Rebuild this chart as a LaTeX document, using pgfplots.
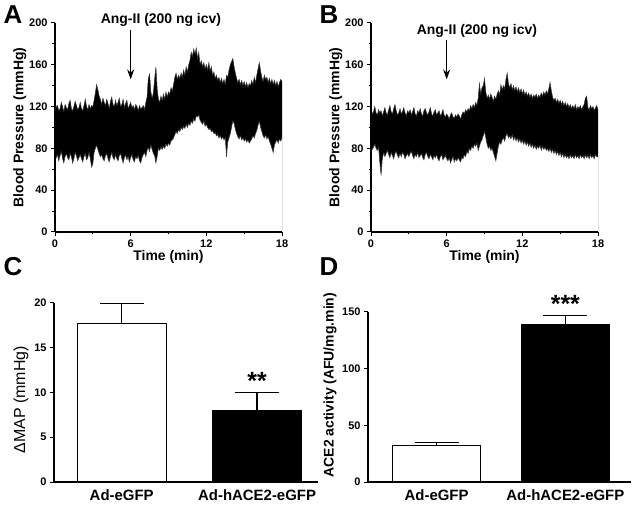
\documentclass[border=0pt]{standalone}
\usepackage{fontspec}
\setmainfont{Liberation Sans}
\usepackage{pgfplots}
\pgfplotsset{compat=1.18}
\usepackage{pgfplotstable}
\usetikzlibrary{arrows.meta}

\pgfplotstableread[row sep=\\]{
t hi lo\\
0.0 126 78\\ 0.1 119 71\\ 0.2 121 74\\ 0.3 116 68\\ 0.4 118 73\\ 0.5 124 77\\ 0.6 120 70\\ 0.7 115 66\\ 0.8 122 72\\ 0.9 119 75\\
1.0 117 71\\ 1.1 123 69\\ 1.2 126 75\\ 1.3 118 72\\ 1.4 116 66\\ 1.5 120 70\\ 1.6 125 76\\ 1.7 121 73\\ 1.8 117 68\\ 1.9 119 71\\
2.0 124 74\\ 2.1 118 70\\ 2.2 116 67\\ 2.3 121 72\\ 2.4 127 75\\ 2.5 120 69\\ 2.6 117 71\\ 2.7 122 76\\ 2.8 118 70\\ 2.9 121 62\\
3.0 120 65\\ 3.1 126 76\\ 3.2 133 80\\ 3.3 141 83\\ 3.4 136 79\\ 3.5 130 75\\ 3.6 127 72\\ 3.7 122 74\\ 3.8 128 70\\ 3.9 124 68\\
4.0 121 73\\ 4.1 127 75\\ 4.2 123 70\\ 4.3 118 67\\ 4.4 125 72\\ 4.5 129 76\\ 4.6 122 71\\ 4.7 120 69\\ 4.8 126 74\\ 4.9 121 70\\
5.0 124 68\\ 5.1 128 73\\ 5.2 120 75\\ 5.3 122 70\\ 5.4 127 66\\ 5.5 119 71\\ 5.6 123 74\\ 5.7 126 69\\ 5.8 118 72\\ 5.9 121 67\\
6.0 124 71\\ 6.1 119 74\\ 6.2 121 69\\ 6.3 117 67\\ 6.4 122 72\\ 6.5 120 70\\ 6.6 116 73\\ 6.7 121 68\\ 6.8 118 66\\ 6.9 119 71\\
7.0 121 74\\ 7.1 117 76\\ 7.2 124 72\\ 7.3 129 78\\ 7.4 147 81\\ 7.5 151 77\\ 7.6 134 83\\ 7.7 128 79\\ 7.8 133 75\\ 7.9 146 73\\
8.0 158 66\\ 8.1 137 72\\ 8.2 127 80\\ 8.3 124 78\\ 8.4 130 81\\ 8.5 126 79\\ 8.6 132 82\\ 8.7 127 80\\ 8.8 134 84\\ 8.9 129 82\\
9.0 134 85\\ 9.1 132 83\\ 9.2 138 87\\ 9.3 135 88\\ 9.4 141 90\\ 9.5 148 93\\ 9.6 152 96\\ 9.7 146 94\\ 9.8 150 98\\ 9.9 147 96\\
10.0 152 100\\ 10.1 148 98\\ 10.2 155 101\\ 10.3 150 99\\ 10.4 158 103\\ 10.5 153 100\\ 10.6 160 104\\ 10.7 164 102\\ 10.8 172 106\\ 10.9 168 104\\
11.0 175 108\\ 11.1 170 106\\ 11.2 176 111\\ 11.3 166 110\\ 11.4 172 112\\ 11.5 160 107\\ 11.6 164 105\\ 11.7 158 103\\ 11.8 162 106\\ 11.9 156 101\\
12.0 160 103\\ 12.1 155 100\\ 12.2 162 98\\ 12.3 154 99\\ 12.4 158 96\\ 12.5 150 97\\ 12.6 153 94\\ 12.7 147 95\\ 12.8 150 92\\ 12.9 145 93\\
13.0 148 90\\ 13.1 143 92\\ 13.2 147 89\\ 13.3 142 91\\ 13.4 146 88\\ 13.5 141 90\\ 13.6 150 72\\ 13.7 148 86\\ 13.8 155 90\\ 13.9 160 94\\
14.0 163 100\\ 14.1 166 106\\ 14.2 158 104\\ 14.3 152 98\\ 14.4 147 94\\ 14.5 143 91\\ 14.6 146 89\\ 14.7 141 92\\ 14.8 145 88\\ 14.9 140 90\\
15.0 144 87\\ 15.1 139 89\\ 15.2 143 86\\ 15.3 138 88\\ 15.4 142 85\\ 15.5 140 87\\ 15.6 145 89\\ 15.7 141 92\\ 15.8 148 90\\ 15.9 143 94\\
16.0 150 97\\ 16.1 156 102\\ 16.2 162 106\\ 16.3 154 100\\ 16.4 148 96\\ 16.5 144 92\\ 16.6 150 90\\ 16.7 146 93\\ 16.8 148 89\\ 16.9 143 91\\
17.0 147 87\\ 17.1 142 84\\ 17.2 146 80\\ 17.3 141 76\\ 17.4 145 83\\ 17.5 140 86\\ 17.6 144 88\\ 17.7 139 85\\ 17.8 143 89\\ 17.9 146 87\\
18.0 144 90\\
}\dataA

\pgfplotstableread[row sep=\\]{
t hi lo\\
0.0 118 82\\ 0.1 113 79\\ 0.2 115 81\\ 0.3 120 84\\ 0.4 114 80\\ 0.5 112 78\\ 0.6 117 81\\ 0.7 114 66\\ 0.8 116 54\\ 0.9 111 70\\
1.0 115 76\\ 1.1 119 72\\ 1.2 114 75\\ 1.3 112 78\\ 1.4 117 74\\ 1.5 121 71\\ 1.6 115 76\\ 1.7 113 73\\ 1.8 118 70\\ 1.9 122 75\\
2.0 116 77\\ 2.1 112 73\\ 2.2 114 71\\ 2.3 118 75\\ 2.4 113 72\\ 2.5 115 76\\ 2.6 119 74\\ 2.7 114 70\\ 2.8 111 73\\ 2.9 116 75\\
3.0 114 72\\ 3.1 117 75\\ 3.2 112 77\\ 3.3 115 73\\ 3.4 119 70\\ 3.5 113 74\\ 3.6 111 72\\ 3.7 116 76\\ 3.8 114 71\\ 3.9 118 73\\
4.0 113 75\\ 4.1 111 71\\ 4.2 116 69\\ 4.3 118 74\\ 4.4 114 76\\ 4.5 112 72\\ 4.6 115 70\\ 4.7 119 74\\ 4.8 113 72\\ 4.9 111 69\\
5.0 115 73\\ 5.1 117 71\\ 5.2 112 74\\ 5.3 114 70\\ 5.4 116 68\\ 5.5 111 72\\ 5.6 113 74\\ 5.7 117 69\\ 5.8 112 71\\ 5.9 110 73\\
6.0 113 70\\ 6.1 111 68\\ 6.2 108 71\\ 6.3 112 66\\ 6.4 114 69\\ 6.5 110 72\\ 6.6 109 67\\ 6.7 112 70\\ 6.8 110 68\\ 6.9 113 71\\
7.0 111 69\\ 7.1 108 67\\ 7.2 112 71\\ 7.3 115 70\\ 7.4 113 74\\ 7.5 117 72\\ 7.6 115 77\\ 7.7 118 75\\ 7.8 116 80\\ 7.9 121 78\\
8.0 118 82\\ 8.1 122 80\\ 8.2 119 84\\ 8.3 124 82\\ 8.4 121 85\\ 8.5 128 78\\ 8.6 142 82\\ 8.7 132 86\\ 8.8 138 88\\ 8.9 140 92\\
9.0 147 96\\ 9.1 134 90\\ 9.2 128 84\\ 9.3 131 80\\ 9.4 127 82\\ 9.5 132 78\\ 9.6 129 80\\ 9.7 125 76\\ 9.8 130 72\\ 9.9 127 68\\
10.0 132 75\\ 10.1 135 82\\ 10.2 131 86\\ 10.3 141 84\\ 10.4 136 88\\ 10.5 140 90\\ 10.6 137 87\\ 10.7 146 92\\ 10.8 152 94\\ 10.9 142 90\\
11.0 138 92\\ 11.1 142 89\\ 11.2 136 93\\ 11.3 140 88\\ 11.4 135 91\\ 11.5 139 87\\ 11.6 134 90\\ 11.7 138 86\\ 11.8 133 89\\ 11.9 137 85\\
12.0 132 88\\ 12.1 136 84\\ 12.2 131 87\\ 12.3 134 83\\ 12.4 130 86\\ 12.5 133 82\\ 12.6 129 85\\ 12.7 132 81\\ 12.8 128 84\\ 12.9 131 80\\
13.0 129 83\\ 13.1 132 79\\ 13.2 128 82\\ 13.3 131 80\\ 13.4 129 83\\ 13.5 133 78\\ 13.6 130 82\\ 13.7 134 79\\ 13.8 131 81\\ 13.9 135 78\\
14.0 132 80\\ 14.1 137 77\\ 14.2 143 80\\ 14.3 135 76\\ 14.4 129 79\\ 14.5 126 75\\ 14.6 128 78\\ 14.7 124 74\\ 14.8 127 77\\ 14.9 123 73\\
15.0 126 76\\ 15.1 122 72\\ 15.2 125 75\\ 15.3 121 71\\ 15.4 124 74\\ 15.5 120 71\\ 15.6 123 73\\ 15.7 119 70\\ 15.8 122 74\\ 15.9 118 71\\
16.0 121 73\\ 16.1 118 70\\ 16.2 122 74\\ 16.3 117 71\\ 16.4 120 73\\ 16.5 118 70\\ 16.6 121 74\\ 16.7 117 71\\ 16.8 120 73\\ 16.9 122 70\\
17.0 128 74\\ 17.1 130 71\\ 17.2 119 73\\ 17.3 117 70\\ 17.4 121 74\\ 17.5 118 71\\ 17.6 120 73\\ 17.7 116 70\\ 17.8 119 74\\ 17.9 121 72\\
18.0 117 72\\
}\dataB

\pgfplotsset{
  prism/.style={
    scale only axis, clip=false, axis on top,
    axis x line*=bottom, axis y line*=left,
    axis line style={line width=1.2bp, black},
    tick align=outside,
    major tick length=4bp, minor tick length=2.5bp,
    every tick/.style={line width=1bp, black},
    /pgf/number format/assume math mode=true,
    tick label style={font=\bfseries\fontsize{11}{13}\selectfont},
    label style={font=\bfseries\fontsize{14}{16}\selectfont},
  },
  trace/.style={prism,
    width=227bp, height=209bp,
    xmin=0, xmax=18, ymin=0, ymax=200,
    xtick={0,6,12,18}, minor xtick={3,9,15},
    ytick={0,40,80,120,160,200}, minor ytick={20,60,100,140,180},
    xlabel={Time (min)}, ylabel={Blood Pressure (mmHg)},
    xlabel style={at={(axis description cs:0.5,-0.12)}, anchor=center},
    ylabel style={at={(axis description cs:-0.155,0.5)}, anchor=center},
  },
}

\begin{document}
\begin{tikzpicture}
\useasboundingbox (0,0) rectangle (636bp,507bp);

% Panel A
\begin{axis}[trace, at={(55bp,275bp)}, anchor=south west]
\addplot[draw=none, fill=black] table[x=t,y=hi]{\dataA} \closedcycle;
\addplot[draw=none, fill=white] table[x=t,y=lo]{\dataA} \closedcycle;
\addplot[black!80, line width=0.5bp] table[x=t,y=hi]{\dataA};
\addplot[black!80, line width=0.5bp] table[x=t,y=lo]{\dataA};
\draw[line width=1.3bp, -{Stealth[length=10bp,width=7bp]}] (axis cs:6,193) -- (axis cs:6,146);
\node[font=\bfseries\fontsize{14}{16}\selectfont] at (axis cs:8.4,203) {Ang-II (200 ng icv)};
\end{axis}

% Panel B
\begin{axis}[trace, at={(371bp,275bp)}, anchor=south west]
\addplot[draw=none, fill=black] table[x=t,y=hi]{\dataB} \closedcycle;
\addplot[draw=none, fill=white] table[x=t,y=lo]{\dataB} \closedcycle;
\addplot[black!80, line width=0.5bp] table[x=t,y=hi]{\dataB};
\addplot[black!80, line width=0.5bp] table[x=t,y=lo]{\dataB};
\draw[line width=1.3bp, -{Stealth[length=10bp,width=7bp]}] (axis cs:6,184) -- (axis cs:6,146);
\node[font=\bfseries\fontsize{14}{16}\selectfont] at (axis cs:8.4,192) {Ang-II (200 ng icv)};
\end{axis}

% Panel C
\begin{axis}[prism, at={(54bp,25bp)}, anchor=south west,
  width=264bp, height=179bp,
  xmin=-0.5, xmax=1.45, ymin=0, ymax=20,
  ytick={0,5,10,15,20},
  xtick={0,1}, xticklabels={Ad-eGFP, Ad-hACE2-eGFP},
  major x tick style={draw=none},
  xticklabel style={font=\bfseries\fontsize{15}{17}\selectfont},
  ylabel={ΔMAP (mmHg)},
  ylabel style={at={(axis description cs:-0.125,0.46)}, anchor=center, font=\fontsize{16}{18}\selectfont},
  ybar, bar width=89bp,
  error bars/y dir=plus, error bars/y explicit,
  error bars/error bar style={line width=1.2bp, black},
  error bars/error mark options={line width=1.2bp, black, mark size=22bp, rotate=90},
]
\addplot[draw=black, fill=white, line width=1.2bp, bar shift=0pt] coordinates {(0,17.7) +- (0,2.2)};
\addplot[draw=black, fill=black, line width=1.2bp, bar shift=0pt] coordinates {(1,8.0) +- (0,2.0)};
\node[font=\bfseries\fontsize{25}{27}\selectfont] at (axis cs:1,11.3) {**};
\end{axis}

% Panel D
\begin{axis}[prism, at={(368bp,25bp)}, anchor=south west,
  width=263bp, height=170bp,
  xmin=-0.533, xmax=1.51, ymin=0, ymax=150,
  ytick={0,50,100,150},
  xtick={0,1}, xticklabels={Ad-eGFP, Ad-hACE2-eGFP},
  major x tick style={draw=none},
  xticklabel style={font=\bfseries\fontsize{15}{17}\selectfont},
  ylabel={ACE2 activity (AFU/mg.min)},
  ylabel style={at={(axis description cs:-0.144,0.57)}, anchor=center},
  ybar, bar width=88bp,
  error bars/y dir=plus, error bars/y explicit,
  error bars/error bar style={line width=1.2bp, black},
  error bars/error mark options={line width=1.2bp, black, mark size=22bp, rotate=90},
]
\addplot[draw=black, fill=white, line width=1.2bp, bar shift=0pt] coordinates {(0,32.5) +- (0,2.0)};
\addplot[draw=black, fill=black, line width=1.2bp, bar shift=0pt] coordinates {(1,139) +- (0,8)};
\node[font=\bfseries\fontsize{25}{27}\selectfont] at (axis cs:1,157) {***};
\end{axis}

% Panel letters
\node[font=\bfseries\fontsize{26}{28}\selectfont] at (13bp,492bp) {A};
\node[font=\bfseries\fontsize{26}{28}\selectfont] at (329bp,492bp) {B};
\node[font=\bfseries\fontsize{26}{28}\selectfont] at (13bp,240bp) {C};
\node[font=\bfseries\fontsize{26}{28}\selectfont] at (329bp,240bp) {D};
\end{tikzpicture}
\end{document}
